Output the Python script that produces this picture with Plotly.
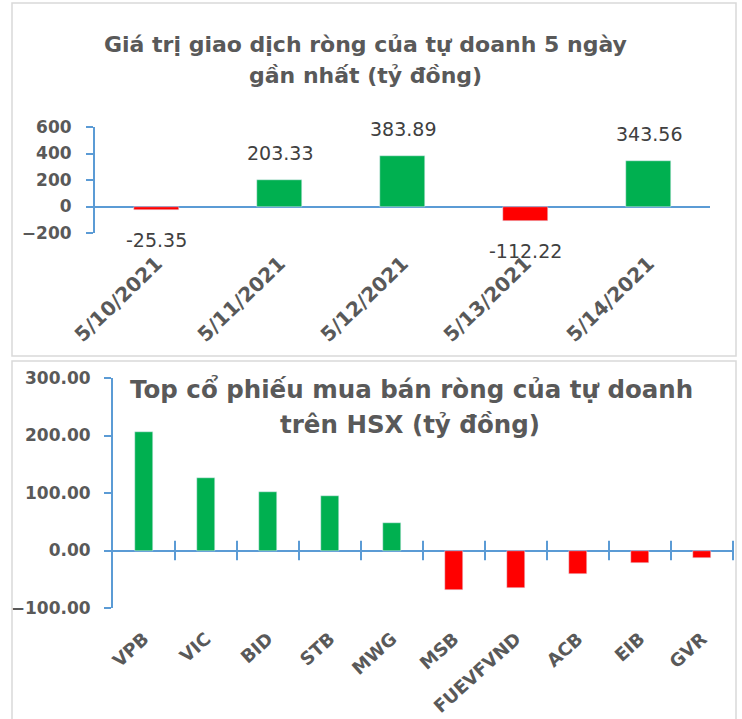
import plotly.graph_objects as go

# ---- data ----
dates = ["5/10/2021", "5/11/2021", "5/12/2021", "5/13/2021", "5/14/2021"]
net_values = [-25.35, 203.33, 383.89, -112.22, 343.56]

stocks = ["VPB", "VIC", "BID", "STB", "MWG", "MSB", "FUEVFVND", "ACB", "EIB", "GVR"]
stock_values = [206, 126.5, 102, 95, 47, -69, -65, -41, -22, -13]

top_title = ["Giá trị giao dịch ròng của tự doanh 5 ngày", "gần nhất (tỷ đồng)"]
bottom_title = ["Top cổ phiếu mua bán ròng của tự doanh", "trên HSX (tỷ đồng)"]

top_yticks = [-200, 0, 200, 400, 600]
bottom_yticks = [-100, 0, 100, 200, 300]

# ---- style ----
W, H = 742, 719
GREEN = "#00b050"
RED = "#ff0000"
BLUE = "#5b9bd5"
GRAY = "#595959"
FONT = "DejaVu Sans, Verdana, sans-serif"


def px(x):
    return x / W


def py(y):
    return 1 - y / H


def colors(vals):
    return [GREEN if v >= 0 else RED for v in vals]


n = len(stocks)
boundaries = [i + 0.5 for i in range(n)]

fig = go.Figure()

fig.add_trace(go.Bar(x=dates, y=net_values, marker_color=colors(net_values),
                     width=0.37, xaxis="x", yaxis="y", hoverinfo="x+y"))
fig.add_trace(go.Bar(x=list(range(n)), y=stock_values,
                     marker_color=colors(stock_values), width=0.3,
                     xaxis="x2", yaxis="y2", hoverinfo="y"))
# category-boundary tick marks crossing the zero axis of the lower chart
fig.add_trace(go.Scatter(x=boundaries, y=[0] * n, mode="markers", xaxis="x2", yaxis="y2",
                         marker=dict(symbol="line-ns", size=14,
                                     line=dict(color=BLUE, width=2)),
                         hoverinfo="skip", cliponaxis=False))

# data labels for top chart
annotations = []
for d, v in zip(dates, net_values):
    annotations.append(dict(
        x=d, y=v, xref="x", yref="y", text=f"{v:.2f}", showarrow=False,
        yanchor="bottom" if v >= 0 else "top",
        yshift=14 if v >= 0 else -17,
        font=dict(family=FONT, size=19, color="#404040")))


def title_ann(x, y, text, size):
    return dict(x=px(x), y=py(y), xref="paper", yref="paper", text=text,
                xanchor="center", yanchor="middle", showarrow=False,
                font=dict(family=FONT, size=size, color=GRAY, weight="bold"))


annotations += [
    title_ann(365, 44, top_title[0], 22),
    title_ann(365, 76, top_title[1], 22),
    title_ann(411, 389, bottom_title[0], 24.5),
    title_ann(410, 424, bottom_title[1], 24.5),
]

common = dict(automargin=False, showgrid=False)

fig.update_layout(
    width=W, height=H, autosize=False,
    margin=dict(l=0, r=0, t=0, b=0, pad=0, autoexpand=False),
    paper_bgcolor="white", plot_bgcolor="white", showlegend=False,
    bargap=0,
    annotations=annotations,
    xaxis=dict(domain=[px(95), px(710)], anchor="y", type="category",
               range=[-0.5, len(dates) - 0.5], showline=False, zeroline=False,
               ticks="", tickangle=-44,
               tickfont=dict(family=FONT, size=20, color=GRAY, weight="bold"),
               ticklabelstandoff=14, **common),
    yaxis=dict(domain=[py(233), py(127)], anchor="x", range=[top_yticks[0], top_yticks[-1]],
               tickvals=top_yticks, showline=True, linecolor=BLUE, linewidth=2,
               ticks="outside", tickcolor=BLUE, ticklen=7, tickwidth=2,
               zeroline=True, zerolinecolor=BLUE, zerolinewidth=2, ticklabelstandoff=11,
               tickfont=dict(family=FONT, size=17, color=GRAY, weight="bold"), **common),
    xaxis2=dict(domain=[px(113), px(733)], anchor="y2", range=[-0.5, n - 0.5],
                tickvals=list(range(n)), ticktext=stocks, showline=False,
                zeroline=False, ticks="", tickangle=-42,
                tickfont=dict(family=FONT, size=18, color=GRAY, weight="bold"),
                ticklabelstandoff=16, **common),
    yaxis2=dict(domain=[py(608), py(378)], anchor="x2",
                range=[bottom_yticks[0], bottom_yticks[-1]],
                tickvals=bottom_yticks, tickformat=".2f", showline=True, linecolor=BLUE,
                linewidth=2, ticks="outside", tickcolor=BLUE, ticklen=7, tickwidth=2,
                zeroline=True, zerolinecolor=BLUE, zerolinewidth=2, ticklabelstandoff=10,
                tickfont=dict(family=FONT, size=17, color=GRAY, weight="bold"), **common),
    shapes=[
        dict(type="rect", xref="paper", yref="paper", x0=px(12), x1=px(736),
             y0=py(356), y1=py(3), line=dict(color="#d9d9d9", width=1.5)),
        dict(type="rect", xref="paper", yref="paper", x0=px(12), x1=px(736),
             y0=py(722), y1=py(361), line=dict(color="#d9d9d9", width=1.5)),
    ],
)

fig.write_html("out.html", config={"displayModeBar": False},
               post_script="document.body.style.margin='0';document.body.style.overflow='hidden';")
